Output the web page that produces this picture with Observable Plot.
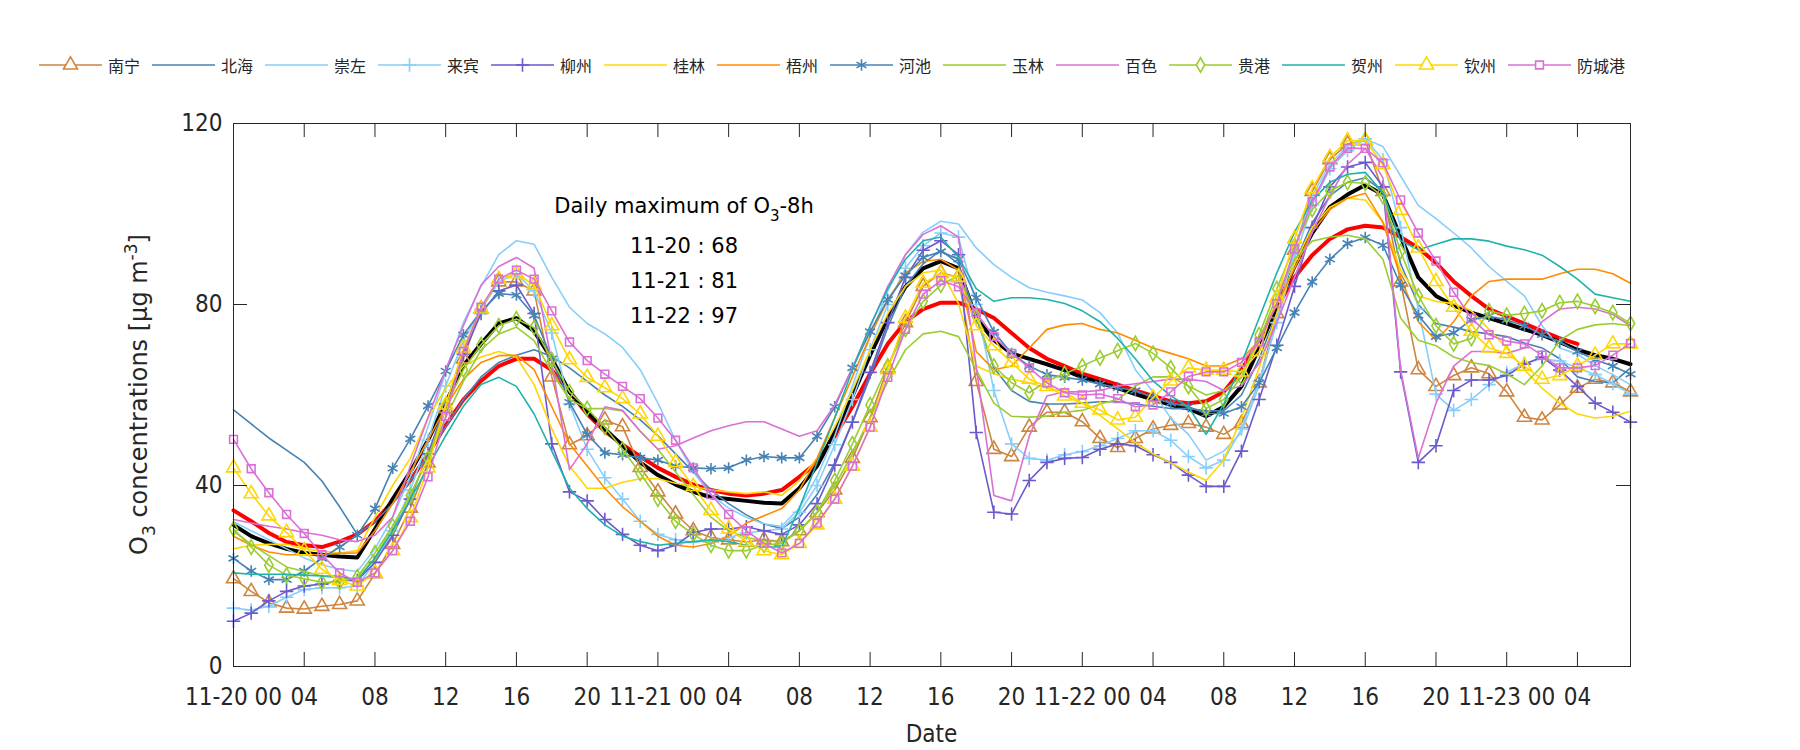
<!DOCTYPE html>
<html><head><meta charset="utf-8">
<script src="https://cdn.jsdelivr.net/npm/d3@7"></script>
<script src="https://cdn.jsdelivr.net/npm/@observablehq/plot@0.6"></script>
<style>
body{margin:0;background:#fff;width:1800px;}
#legend{box-sizing:border-box;height:95px;padding:35px 0 0 39px;display:flex;align-items:center;font-family:"Noto Sans CJK SC",sans-serif;font-size:16px;color:#262626;}
.item{width:113px;display:flex;align-items:center;flex:none;white-space:nowrap;}
.item svg{margin-right:6px;overflow:visible;display:block}
</style></head><body>
<div id="legend"></div>
<div id="chart"></div>
<script>
// ---------- data (hourly from 11-20 00:00) ----------
const stations = ["南宁","北海","崇左","来宾","柳州","桂林","梧州","河池","玉林","百色","贵港","贺州","钦州","防城港"];

const nanning = [19.4,16.6,14.1,12.9,12.7,13.3,13.7,14.5,20.5,27,35,45,57,68,79,85,85,83,64,49,51,54.5,53,
 44,38.6,33.7,30,28.5,28,27.5,28,27.6,30,34,39,46,55,66,76,84,87,86,63,48,46.4,52.9,56.2,56.2,54.1,
 50.4,48.4,50.4,52.5,53.3,53.7,52.9,51.3,53.7,62.7,78,92,105,112,115.5,116.2,105,85,65.6,61.9,64.3,66,64.7,60.7,55.1,54.5,57.8,61.5,63.5,62.7,60.7];
const beihai = [56.7,53.6,50.5,47.8,45.1,41,35.3,29.2,32,36,41,47,53,59,64,67.2,68.8,70,68.5,66,63,60,57.5,
 54.5,51,47,43,39,36,33.5,31.5,30.5,33,38,45,54,64,75,84,89,92,89,77,66,61,58.6,58,58,58.2,
 58.5,58.5,58,57.5,57,57,56.5,56.5,60,68,78,89,98,104,107,108,105,89,80,75.8,75,74,73.5,72.9,71.5,70.4,68,64,63,62.7,66];
const chongzuo = [32,30,28,26,24,22.5,21.5,21,26,33,42,53,65,76,84,91,94.1,93.3,86,79.4,75.8,73.5,70.5,
 65.6,58.2,50,43,38,35,33,31.5,31,35,42,51,62,73,83,91,96,98.4,97.8,92.5,88.8,86,83.7,82.7,81.9,81,
 78.2,73.7,65.6,60.7,54.9,51.3,45.6,47.6,51.7,62,77,92,104,111,115,116.6,114.9,108.4,101.9,99,95.8,92.5,88.4,85.1,81.9,75.3,70.4,69,66.5,64.5,62.3];
const laibin = [12.9,12.5,13.3,15.3,17,17.4,17.4,17.8,23,30,39,50,62,72,79,85,86.8,83,73.7,58,48,41.7,37,
 32.1,29.2,28,27.5,27.8,28.5,29.5,30,30.4,34.1,40,49,59,70,80,88,93,95.8,94.9,80,61,49.2,46,45.6,46.8,47.5,
 48.8,50.4,52.1,52.1,50,46.4,43.9,45.6,52.5,63,76,90,102,110,114,116.6,112,97,79,60.2,56.6,59,62.3,65,67,68,67.5,66,64.5,62.5,60.2];
const liuzhou = [10,11.8,14.5,16.6,17.8,18.2,19,19,23,29,37,47,58,69,78,83,84.3,78,49.2,38.6,36.6,32.5,29.2,
 26.8,25.6,26.8,29.6,30.4,30.4,30.9,30,29.2,31.3,36,44.5,54,65,76,86,92,94.1,91,51.7,34.1,33.7,41.1,45.1,46,46.2,
 48,49.2,48.8,46.8,45.1,42.3,39.8,39.8,47.6,59,71,84,97,106,110.4,111.4,106,65.1,45.1,48.8,61,63.3,63.3,64.3,66.8,68.4,65.5,61.9,58.2,56.2,54];
const guilin = [26,26.8,27,27,26,25.5,25.1,25.6,33,40,46,55,61.5,66.4,68.4,69.6,68.4,62.3,52.5,44.3,39.4,39.4,40.7,
 41.5,41.5,40.5,39.8,39,38.6,38.2,38.6,37.8,41.1,46,53,61,70,78,84,87,87.6,80.2,66.4,64.7,63.5,62.7,61.5,60.7,58.2,
 55.5,52.5,49.5,47,45,43,41.1,45.6,54.9,66,78,89,97,101.5,103.5,103.1,98.2,87.6,81.9,80.7,80.2,78.6,74.5,70.4,65.6,61.5,58.2,55.8,54.9,55.3,56.4];
const wuzhou = [28.8,26.8,25.3,24.7,24.7,24.7,25,25.1,30,36,43,50,57.4,63.5,67.2,68.7,68.8,65.6,57.4,49.2,44.3,39.4,35.3,
 32.1,28.8,26.8,26.4,27.2,28.8,31.7,33.3,34.9,39,46,55,64,73,81,87,89.5,90,87.6,69.6,65.6,66.4,70.4,74.5,75.5,75.8,
 74.5,73.7,72.1,70.4,69.2,68,66.4,66.4,68,72,80,88,96,101,103.5,104.6,98.2,86,76.2,72.1,76.2,81.9,85.1,85.6,85.6,85.6,86.8,87.8,87.8,86.8,84.7];
const hechi = [23.9,21.1,19.2,19.2,21.1,23.9,26.4,29,34.9,43.8,50.3,57.6,65.3,73.3,78.5,82.4,82.1,77.6,68,58.4,51.3,47.2,46.8,
 46.1,45.6,44.3,43.9,43.7,43.9,45.6,46.4,46.1,46.1,50.9,57.4,66,74,81.1,86.4,90.4,91.7,90,81.5,73.9,69.2,66.4,64.5,63.9,63.3,
 62.4,61.6,61,59.4,58.2,57.4,55.9,55.9,57.4,62.7,70.4,78.2,85,90,93.5,94.8,93.1,84.3,77.6,72.9,73.7,76.6,77.4,76.6,75.3,73.3,71.7,69.6,67.8,66.4,64.6];
const yulin = [30,27,24.5,22,21,20,19.5,19.5,24,31,38,46,55,63,70,73.5,75,72,65,59,57,57,56.5,
 52,48,43,38,33,30,28.5,27.8,27.5,30,34,40,47,55,63,70,73.5,74.1,72.9,65.6,58.2,55.3,55.1,55.3,56.2,56.6,
 58,59,62,64,64,62,60,61,64,72,82,90,94,94.9,95.3,94.5,90,77,72.1,70.9,68.4,67.2,66.5,64.7,62.3,66.4,72.1,74.5,75.5,75.8,75.3];
const baise = [32.5,31.7,31,30.4,29.6,29,28,27.6,29,33,44.3,55,65.6,75.3,84.3,88.4,90.4,88,67.2,43.5,49.2,57.4,56.6,
 52,48,48.8,50.5,52.1,53.2,54.1,54.1,52.5,50.9,52.1,57.8,66,75,84,91,95.5,97.4,94.9,66.4,37.8,36.6,50.9,59.8,60.7,60.7,
 61,62,62.5,63,63.5,63.5,63,61,62,67,76,86,96,104,111,114.5,108,65.5,46,58.2,66.4,69.6,69.6,69.2,70.4,76.2,79,79.4,79,77.8,75.3];
const guigang = [30.4,26.4,22.4,20.2,19.4,18.6,18.6,19.8,25.1,31,37.8,46,57.4,65.6,71.1,75.3,76.8,74.9,67.8,60.7,57,52.9,48,
 42.7,37,32.1,29.2,26.8,25.6,25.6,26.8,27.2,30,34.1,41.1,49.2,57.8,66.4,74.5,80.7,84.3,86.4,77.4,66.4,62.7,60.5,63.1,64.7,66.4,
 68.2,69.8,71.4,69.2,66,61.9,57,59,63.9,73.3,83.5,93,101,105.1,107,106.8,103.9,91.7,81.9,75.3,71.3,72.5,78.6,77.6,78,78.6,80.4,80.7,79.6,78.2,75.8];
const hezhou = [20.7,20.4,20.4,20.4,20.2,20,20,19,24,30,37,44,51,57.5,62.3,63.9,61.9,55.8,47.6,39.4,34.9,31.3,28.8,
 27.6,26.8,27.2,27.6,28,27.6,26.8,26.4,26.4,35,45.1,54.9,65.6,75.3,83.5,90,94.1,94.9,90.4,83.5,80.7,81.5,81.5,81.1,80.2,78.6,
 76.2,72.5,68,63.1,59.8,57.4,51.3,58,67,77,87,96,103,107,108.8,109.2,104.7,94.1,92.1,93.3,94.5,94.5,94,92.9,92.1,90.9,88.4,85.6,82.3,81.5,80.7];
const qinzhou = [43.9,38.2,33.3,29.6,25.6,21.5,19,17.8,20.7,25.6,32.9,43.9,57.8,70.4,79,85.6,86.8,84.3,75.3,67.8,63.9,61.6,59.2,
 55.8,50.9,45.1,39.8,34.5,30.4,27.6,25.6,24.7,27.2,31.3,37,44.3,52.9,65.6,77,84.7,86.8,86,75.3,70.9,67.2,63.5,61.9,59.8,58.2,
 56.7,54.5,55.1,59.4,63.1,66,65.5,65.5,65.1,69.6,81.5,94.5,105.6,112.5,116.2,116.3,110.9,100.8,92.5,85.1,79.4,74.1,70.4,69.2,66.4,63.5,64.3,66.4,68.8,71.3,71.3];
const fangchenggang = [50.2,43.7,38.4,33.6,29.4,24.7,20.7,18.6,20.7,25.6,32.1,41.9,55.3,69.6,79.4,85.6,87.6,85.6,78.6,71.7,67.6,64.6,61.9,
 59.2,54.9,50,43.9,38,33.6,30,27.2,25.1,27.2,31.7,37,44.3,52.9,63.9,74.5,82.3,85.3,83.9,78.2,72.9,69.2,66,62.7,60.5,60,
 60.2,59.2,57.4,57.8,60.7,64.1,65.1,65.1,67.2,71.7,80.2,92.3,102.7,110.4,114.5,114.5,111.3,103.1,95.8,89.6,82.7,77,73.3,71.9,71.3,68.8,66,66,66.5,68.8,71.4];
// thick lines
const redSeries = [34.5,32.1,29.5,27.5,26.8,26.4,27.6,29.2,32.1,36.5,41.1,47,53.3,59,63.1,66.4,68,68,65.5,60.7,55.8,52,49,
 46.4,43.9,41.9,40.2,39,38.2,37.8,38.2,39,41.9,45.1,50.9,57.4,64.7,71.3,76.2,79,80.4,80.4,79,77,73.7,70.4,68,66.4,64.7,
 63.5,62.3,61,59.8,58.6,58.2,58.6,60.7,65.5,72,79.4,86,90.9,94.5,96.6,97.4,97,94.9,92.5,89.2,85.1,81.9,79,77.4,75.8,74.1,72.5,71.3];
const blackSeries = [31.3,28.8,27.2,26,25.1,24.7,24.3,24.1,30.4,37,43,50,58.2,66.5,71.3,75.8,77,74.1,68,60.7,56.2,52.5,48.8,
 45.1,42.3,40.2,38.6,37.4,37,36.6,36.2,36,39.4,44.3,51.7,59.8,68.8,77,83.9,88,89.6,88,77,72.1,69.2,68,66.8,65.5,63.9,
 62.7,61.5,60.2,59,57.8,57,55.3,57.4,61.9,70.4,79.4,88.4,95.8,101.5,104.3,106.4,104.3,94.9,86,81.9,79.8,78.2,77,75.8,74.5,73.3,71.7,70,68.8,68,66.8];

const xTickHours = [0,4,8,12,16,20,24,28,32,36,40,44,48,52,56,60,64,68,72,76];
const xTickLabels = ["11-20 00","04","08","12","16","20","11-21 00","04","08","12","16","20","11-22 00","04","08","12","16","20","11-23 00","04"];
const yTicks = [0,40,80,120];
const maxDates = ["11-20","11-21","11-22"];
const maxValues = [68,81,97];

// ---------- styles ----------
const seriesValues = [nanning,beihai,chongzuo,laibin,liuzhou,guilin,wuzhou,hechi,yulin,baise,guigang,hezhou,qinzhou,fangchenggang];
const colors = ["#CD853F","#4682B4","#87CEFA","#87CEFA","#6A5ACD","#FFD700","#FF8C00","#4682B4","#9ACD32","#DA70D6","#9ACD32","#20B2AA","#FFD700","#DA70D6"];
const symbols = ["triangle",null,null,"plus","plus",null,null,"asterisk",null,null,"diamond",null,"triangle","square"];
const symR = {triangle:5.2, plus:4.4, asterisk:5.4, diamond:4.4, square:4.4};
const d3sym = {triangle:d3.symbolTriangle, plus:d3.symbolPlus, asterisk:d3.symbolAsterisk, diamond:d3.symbolDiamond, square:d3.symbolSquare};

const toRows = (vals) => vals.map((v, i) => ({hour: i, value: v}));

// ---------- legend ----------
const legend = d3.select("#legend");
stations.forEach((name, i) => {
  const item = legend.append("div").attr("class", "item");
  const s = item.append("svg").attr("width", 63).attr("height", 20);
  s.append("line").attr("x1", 0).attr("x2", 63).attr("y1", 10).attr("y2", 10)
    .attr("stroke", colors[i]).attr("stroke-width", 1.6);
  if (symbols[i]) {
    const r = symR[symbols[i]];
    s.append("path").attr("transform", "translate(31.5,10)")
      .attr("d", d3.symbol(d3sym[symbols[i]], Math.PI * r * r)())
      .attr("fill", "white").attr("stroke", colors[i]).attr("stroke-width", 1.6);
  }
  item.append("span").text(name);
});

// ---------- chart ----------
const W = 1800, H = 655, mL = 233, mR = 170, mT = 28, mB = 84, tk = 14;
const innerW = W - mL - mR, innerH = H - mT - mB;
const marks = [
  Plot.line(toRows(redSeries), {x: "hour", y: "value", stroke: "#FF0000", strokeWidth: 4}),
  Plot.line(toRows(blackSeries), {x: "hour", y: "value", stroke: "#000000", strokeWidth: 4})
];
seriesValues.forEach((vals, i) => {
  const rows = toRows(vals);
  marks.push(Plot.line(rows, {x: "hour", y: "value", stroke: colors[i], strokeWidth: 1.6}));
  if (symbols[i]) {
    marks.push(Plot.dot(rows, {x: "hour", y: "value", symbol: symbols[i], r: symR[symbols[i]],
      stroke: colors[i], fill: "none", strokeWidth: 1.6}));
  }
});
marks.push(
  Plot.tickX(xTickHours, {x: d => d, insetTop: innerH - tk, stroke: "#262626"}),
  Plot.tickX(xTickHours, {x: d => d, insetBottom: innerH - tk, stroke: "#262626"}),
  Plot.tickY(yTicks, {y: d => d, insetRight: innerW - tk, stroke: "#262626"}),
  Plot.tickY(yTicks, {y: d => d, insetLeft: innerW - tk, stroke: "#262626"}),
  Plot.frame({stroke: "#262626", strokeWidth: 1}),
  Plot.axisX({ticks: xTickHours, tickFormat: d => xTickLabels[xTickHours.indexOf(d)], tickSize: 0, tickPadding: 21, label: null, fill: "#262626", fontSize: 24}),
  Plot.axisY({ticks: yTicks, tickSize: 0, tickPadding: 11, label: null, fill: "#262626", fontSize: 24})
);

const chart = Plot.plot({
  width: W, height: H,
  marginLeft: mL, marginRight: mR, marginTop: mT, marginBottom: mB,
  x: {domain: [0, 79]},
  y: {domain: [0, 120]},
  style: {fontFamily: "'DejaVu Sans Condensed', 'DejaVu Sans', sans-serif", fontStretch: "condensed", fontSize: "24px", background: "white", overflow: "visible"},
  marks
});
document.getElementById("chart").append(chart);

const svg = d3.select(chart);
// x label
svg.append("text").attr("x", mL + innerW / 2).attr("y", 647).attr("text-anchor", "middle")
  .attr("fill", "#262626").style("font-size", "24px").text("Date");
// y label
const yl = svg.append("text").attr("transform", `translate(147,${mT + innerH / 2}) rotate(-90)`)
  .attr("text-anchor", "middle").attr("fill", "#262626")
  .style("font-family", "'DejaVu Sans', sans-serif").style("font-stretch", "normal").style("font-size", "24px");
yl.append("tspan").text("O");
yl.append("tspan").attr("dy", 8).style("font-size", "17px").text("3");
yl.append("tspan").attr("dy", -8).text(" concentrations [μg m");
yl.append("tspan").attr("dy", -10).style("font-size", "17px").text("-3");
yl.append("tspan").attr("dy", 10).text("]");
// annotation
const ax = 684;
const t1 = svg.append("text").attr("x", ax).attr("y", 118).attr("text-anchor", "middle")
  .attr("fill", "#000").style("font-family", "'DejaVu Sans', sans-serif").style("font-stretch", "normal").style("font-size", "21px");
t1.append("tspan").text("Daily maximum of O");
t1.append("tspan").attr("dy", 8).style("font-size", "15px").text("3");
t1.append("tspan").attr("dy", -8).text("-8h");
maxDates.forEach((d, i) => {
  svg.append("text").attr("x", ax).attr("y", 158 + i * 35).attr("text-anchor", "middle")
    .attr("fill", "#000").style("font-family", "'DejaVu Sans', sans-serif").style("font-stretch", "normal")
    .style("font-size", "21px").text(`${d} : ${maxValues[i]}`);
});
</script></body></html>
